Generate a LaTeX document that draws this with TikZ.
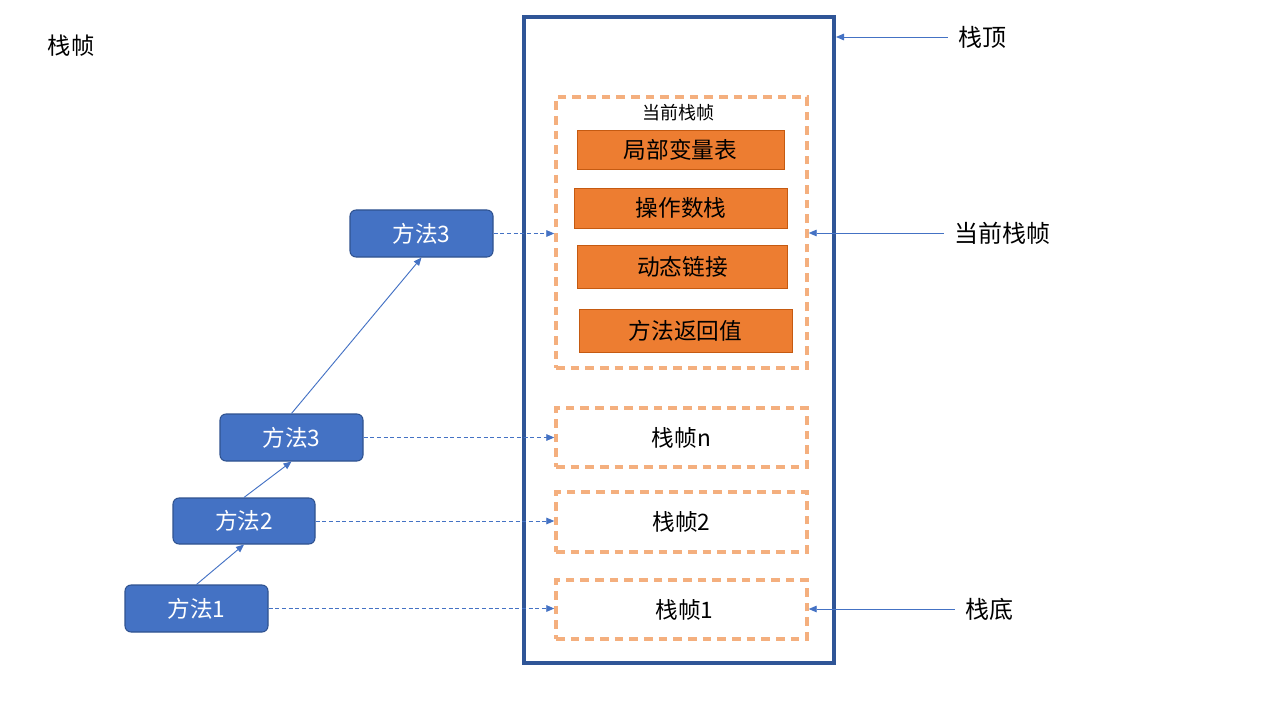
\documentclass[tikz,border=0pt]{standalone}
\usepackage{fontspec}
\setmainfont{Noto Sans CJK SC}
\usetikzlibrary{arrows.meta}
\newlength\pxlen \setlength\pxlen{0.75pt}
\definecolor{outc}{HTML}{2F5597}
\definecolor{methf}{HTML}{4472C4}
\definecolor{methb}{HTML}{2F528F}
\definecolor{varf}{HTML}{ED7D31}
\definecolor{varb}{HTML}{C55A11}
\definecolor{frmc}{HTML}{F4AF7E}
\definecolor{arrc}{HTML}{4472C4}
\begin{document}
\begin{tikzpicture}[x=0.75pt,y=-0.75pt,
  meth/.style={draw=methb, fill=methf, rounded corners=6\pxlen, text=white, inner sep=0pt,
    minimum width=143\pxlen, minimum height=47\pxlen, font=\fontsize{17}{20}\selectfont, line width=0.8pt},
  varbox/.style={draw=varb, fill=varf, inner sep=0pt, font=\fontsize{17}{20}\selectfont, line width=0.6pt},
  frm/.style={draw=frmc, dash pattern=on 6.5pt off 4.5pt, line width=2.6pt, inner sep=0pt, minimum width=251\pxlen,
    font=\fontsize{17}{20}\selectfont},
  lbl/.style={inner sep=7.5pt, font=\fontsize{18}{22}\selectfont},
  solidarr/.style={draw=arrc, line width=0.7pt, -{Triangle[length=6pt,width=5pt]}},
  dasharr/.style={draw=arrc, line width=0.7pt, dash pattern=on 3pt off 2pt, -{Triangle[length=6pt,width=5pt]}}
]
\useasboundingbox (0,0) rectangle (1280,720);

% outer stack
\node[draw=outc, line width=3pt, minimum width=310\pxlen, minimum height=646\pxlen, inner sep=0pt] (stack) at (679,340) {};

% current frame
\node[frm, minimum height=271\pxlen] (cur) at (681.5,232.5) {};
\node[font=\fontsize{13.5}{16}\selectfont, inner sep=0pt] (curlbl) at (678,113) {当前栈帧};
\node[varbox, minimum width=207\pxlen, minimum height=39\pxlen] (b1) at (680.5,149.5) {局部变量表};
\node[varbox, minimum width=213\pxlen, minimum height=40\pxlen] (b2) at (681,208) {操作数栈};
\node[varbox, minimum width=210\pxlen, minimum height=43\pxlen] (b3) at (682.5,266.5) {动态链接};
\node[varbox, minimum width=213\pxlen, minimum height=43\pxlen] (b4) at (685.5,330.5) {方法返回值};

% other frames
\node[frm, minimum height=59\pxlen] (fn) at (681.5,437.5) {栈帧n};
\node[frm, minimum height=60\pxlen] (f2) at (681.5,522) {栈帧2};
\node[frm, minimum height=59\pxlen] (f1) at (681.5,609.5) {\hspace*{6\pxlen}栈帧1};

% methods
\node[meth] (m1) at (196.5,608.5) {方法1};
\node[meth, minimum width=142\pxlen, minimum height=46\pxlen] (m2) at (244,521) {方法2};
\node[meth] (m3) at (291.5,437.5) {方法3};
\node[meth] (m4) at (421.5,233.5) {方法3};

\draw[solidarr] (m1.north) -- (m2.south);
\draw[solidarr] (m2.north) -- (m3.south);
\draw[solidarr] (m3.north) -- (m4.south);

\draw[dasharr] (m1.east) -- (m1.east -| f1.west);
\draw[dasharr] (m2.east) -- (m2.east -| f2.west);
\draw[dasharr] (m3.east) -- (m3.east -| fn.west);
\draw[dasharr] (m4.east) -- (m4.east -| cur.west);

% right labels
\node[lbl] (top) at (982,37) {栈顶};
\node[lbl] (curr) at (1002,233) {当前栈帧};
\node[lbl] (bot) at (989,609) {栈底};
\draw[solidarr] (top.west) -- (top.west -| stack.east);
\draw[solidarr] (curr.west) -- (curr.west -| cur.east);
\draw[solidarr] (bot.west) -- (bot.west -| f1.east);

% title
\node[font=\fontsize{17.5}{21}\selectfont] (title) at (71,46) {栈帧};
\end{tikzpicture}
\end{document}
